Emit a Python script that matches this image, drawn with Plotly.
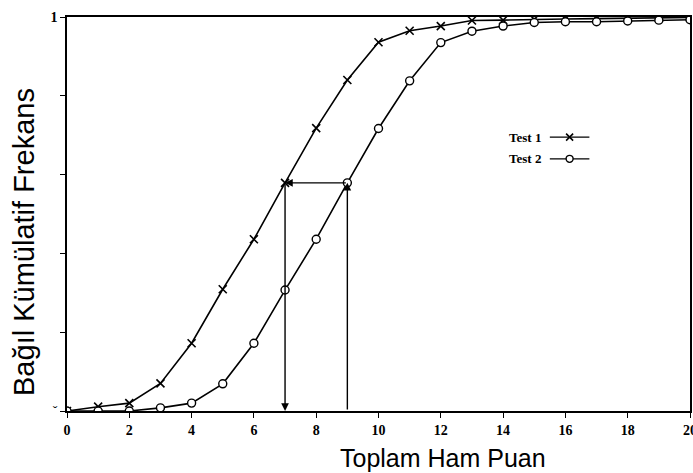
import plotly.graph_objects as go

scores = list(range(0, 21))
test1 = [0.0, 0.011, 0.02, 0.07, 0.172, 0.309, 0.436, 0.579, 0.718, 0.84, 0.936,
         0.965, 0.977, 0.991, 0.992, 0.994, 0.995, 0.996, 0.997, 0.998, 0.999]
test2 = [0.0, 0.0, 0.0, 0.008, 0.02, 0.069, 0.172, 0.307, 0.436, 0.579, 0.717,
         0.838, 0.935, 0.964, 0.977, 0.986, 0.988, 0.988, 0.99, 0.992, 0.993]
series_names = ["Test 1", "Test 2"]
xtick_vals = list(range(0, 21, 2))
xtick_text = ["<b>%d</b>" % v for v in xtick_vals]
ytick_vals = [0, 0.2, 0.4, 0.6, 0.8, 1]
ytick_text = ["ˇ", "", "", "", "", "<b>1</b>"]
# arrow construction: Test 2 score -> same percentile -> Test 1 score
src_score = 9
dst_score = 7
level = test2[src_score]

serif = "Liberation Serif"
sans = "Liberation Sans"

fig = go.Figure()
fig.add_trace(go.Scatter(
    x=scores, y=test1, mode="lines+markers", name=series_names[0],
    line=dict(color="black", width=1.6),
    marker=dict(symbol="x-thin", size=8, line=dict(color="black", width=1.6)),
    showlegend=False))
fig.add_trace(go.Scatter(
    x=scores, y=test2, mode="lines+markers", name=series_names[1],
    line=dict(color="black", width=1.6),
    marker=dict(symbol="circle", size=8, color="white", line=dict(color="black", width=1.4)),
    showlegend=False))

# legend samples (text left, sample right)
leg_y = [0.695, 0.64]
leg_x0, leg_x1 = 15.5, 16.77
fig.add_trace(go.Scatter(x=[leg_x0, leg_x1], y=[leg_y[0]] * 2, mode="lines",
                         line=dict(color="black", width=1.4), showlegend=False, hoverinfo="skip"))
fig.add_trace(go.Scatter(x=[(leg_x0 + leg_x1) / 2], y=[leg_y[0]], mode="markers",
                         marker=dict(symbol="x-thin", size=7, line=dict(color="black", width=1.6)),
                         showlegend=False, hoverinfo="skip"))
fig.add_trace(go.Scatter(x=[leg_x0, leg_x1], y=[leg_y[1]] * 2, mode="lines",
                         line=dict(color="black", width=1.4), showlegend=False, hoverinfo="skip"))
fig.add_trace(go.Scatter(x=[(leg_x0 + leg_x1) / 2], y=[leg_y[1]], mode="markers",
                         marker=dict(symbol="circle", size=7, color="white", line=dict(color="black", width=1.4)),
                         showlegend=False, hoverinfo="skip"))
for name, yy in zip(series_names, leg_y):
    fig.add_annotation(x=leg_x0 - 0.22, y=yy, xref="x", yref="y", text="<b>%s</b>" % name, showarrow=False,
                       xanchor="right", yanchor="middle", font=dict(family=serif, size=13, color="black"))

# arrows
arrow_common = dict(xref="x", yref="y", axref="x", ayref="y", text="", showarrow=True,
                    arrowhead=2, arrowsize=1.1, arrowwidth=1.4, arrowcolor="black", standoff=0)
fig.add_annotation(x=src_score, y=level, ax=src_score, ay=0, **arrow_common)
fig.add_annotation(x=dst_score, y=level, ax=src_score, ay=level, **arrow_common)
fig.add_annotation(x=dst_score, y=0, ax=dst_score, ay=level, **arrow_common)

# axis titles
fig.add_annotation(x=0.604, y=-0.119, xref="paper", yref="paper", text="Toplam Ham Puan",
                   showarrow=False, xanchor="center", yanchor="middle",
                   font=dict(family=sans, size=25, color="black"))
fig.add_annotation(x=-0.07, y=0.43, xref="paper", yref="paper", text="Bağıl Kümülatif Frekans",
                   showarrow=False, xanchor="center", yanchor="middle", textangle=-90,
                   font=dict(family=sans, size=29, color="black"))

fig.update_layout(
    width=693, height=473,
    margin=dict(l=67, r=3, t=17, b=62, autoexpand=False),
    paper_bgcolor="white", plot_bgcolor="white",
    xaxis=dict(range=[0, 20], tickvals=xtick_vals, ticktext=xtick_text, ticks="outside", ticklen=5,
               tickwidth=1.3, tickcolor="black", showline=True, linecolor="black", linewidth=1.6,
               mirror=True, showgrid=False, zeroline=False, ticklabeloverflow="allow",
               automargin=False,
               tickfont=dict(family=serif, size=14, color="black")),
    yaxis=dict(range=[0, 1], tickvals=ytick_vals, ticktext=ytick_text, ticks="outside", ticklen=5,
               tickwidth=1.3, tickcolor="black", showline=True, linecolor="black", linewidth=1.6,
               mirror=True, showgrid=False, zeroline=False, automargin=False,
               tickfont=dict(family=serif, size=14, color="black")),
)

fig.write_html("out.html", config={"displayModeBar": False},
               post_script="document.body.style.margin='0';document.body.style.padding='0';")
